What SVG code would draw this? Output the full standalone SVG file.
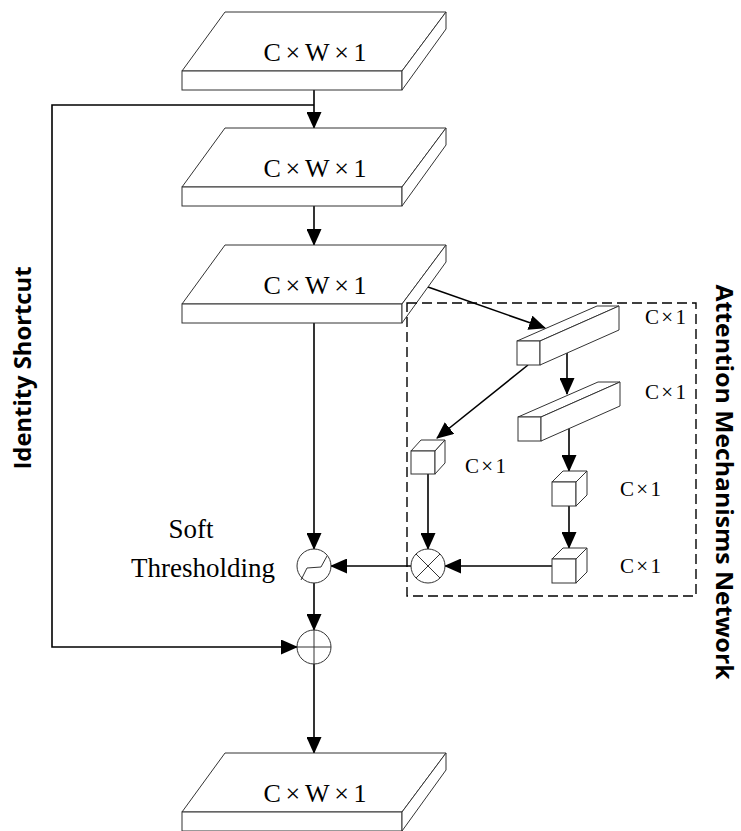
<svg xmlns="http://www.w3.org/2000/svg" width="741" height="831" viewBox="0 0 741 831">
<defs>
<style>
.box{fill:#fff;stroke:#333;stroke-width:1}
.ln{fill:none;stroke:#000;stroke-width:1.6}
.arr{fill:none;stroke:#000;stroke-width:1.6;marker-end:url(#ah)}
.cw{font-family:"Liberation Serif","Times New Roman",serif;font-size:26px;text-anchor:middle;fill:#000}
.c1{font-family:"Liberation Serif","Times New Roman",serif;font-size:21px;fill:#000}
.lbl{font-family:"Liberation Serif","Times New Roman",serif;font-size:27px;text-anchor:middle;fill:#000}
.side{font-family:"Open Sans","Noto Sans",sans-serif;font-weight:bold;fill:#000;text-anchor:middle}
.circ{fill:#fff;stroke:#333;stroke-width:1}
.thin{fill:none;stroke:#333;stroke-width:1}
</style>
<marker id="ah" markerUnits="userSpaceOnUse" markerWidth="17" markerHeight="15" refX="16" refY="7.5" orient="auto">
<path d="M0,0 L17,7.5 L0,15 Z" fill="#000"/>
</marker>
<g id="slab">
<polygon class="box" points="182,59 225,0 446,0 402,59"/>
<rect class="box" x="182" y="59" width="220" height="19"/>
<polygon class="box" points="402,59 446,0 446,17 402,78"/>
</g>
</defs>

<g id="connectors">
<line class="arr" x1="314" y1="90" x2="314" y2="128"/>
<line class="arr" x1="314" y1="206" x2="314" y2="245"/>
<line class="arr" x1="314" y1="323" x2="314" y2="549"/>
<line class="arr" x1="314" y1="583" x2="314" y2="630"/>
<line class="arr" x1="314" y1="664" x2="314" y2="753"/>
<polyline class="arr" points="314,105 52,105 52,647 297,647"/>
<line class="arr" x1="428" y1="287" x2="545" y2="328"/>
<line class="arr" x1="567" y1="353" x2="567" y2="394"/>
<line class="arr" x1="528" y1="365" x2="437" y2="438"/>
<line class="arr" x1="428" y1="474" x2="428" y2="549"/>
<line class="arr" x1="569" y1="428" x2="569" y2="471"/>
<line class="arr" x1="569" y1="506" x2="569" y2="548"/>
<line class="arr" x1="552" y1="566" x2="445" y2="566"/>
<line class="arr" x1="411" y1="566" x2="331" y2="566"/>
</g>

<g id="slab1">
<use href="#slab" transform="translate(0,12)"/>
<text class="cw" x="315" y="61" textLength="103">C×W×1</text>
</g>
<g id="slab2">
<use href="#slab" transform="translate(0,128)"/>
<text class="cw" x="315" y="177" textLength="103">C×W×1</text>
</g>
<g id="slab3">
<use href="#slab" transform="translate(0,245)"/>
<text class="cw" x="315" y="294" textLength="103">C×W×1</text>
</g>
<g id="slab4">
<use href="#slab" transform="translate(0,753)"/>
<text class="cw" x="315" y="802" textLength="103">C×W×1</text>
</g>

<g id="attention-box">
<rect x="407" y="303" width="289" height="293" fill="none" stroke="#000" stroke-width="1.4" stroke-dasharray="10,5"/>
</g>

<g id="bar1">
<polygon class="box" points="517,341 597,306 619,306 540,341"/>
<rect class="box" x="517" y="341" width="23" height="24"/>
<polygon class="box" points="540,341 619,306 619,330 540,365"/>
<text class="c1" x="645" y="324" textLength="41">C×1</text>
</g>
<g id="bar2">
<polygon class="box" points="518,417 598,382 620,382 541,417"/>
<rect class="box" x="518" y="417" width="23" height="24"/>
<polygon class="box" points="541,417 620,382 620,406 541,441"/>
<text class="c1" x="645" y="399" textLength="41">C×1</text>
</g>
<g id="cube1">
<polygon class="box" points="411,451 421,440 445,440 435,451"/>
<rect class="box" x="411" y="451" width="24" height="23"/>
<polygon class="box" points="435,451 445,440 445,463 435,474"/>
<text class="c1" x="465" y="473" textLength="41">C×1</text>
</g>
<g id="cube2">
<polygon class="box" points="552,482 563,471 587,471 576,482"/>
<rect class="box" x="552" y="482" width="24" height="24"/>
<polygon class="box" points="576,482 587,471 587,495 576,506"/>
<text class="c1" x="620" y="496" textLength="41">C×1</text>
</g>
<g id="cube3">
<polygon class="box" points="552,559 563,548 587,548 576,559"/>
<rect class="box" x="552" y="559" width="24" height="24"/>
<polygon class="box" points="576,559 587,548 587,572 576,583"/>
<text class="c1" x="620" y="573" textLength="41">C×1</text>
</g>

<g id="multiply">
<circle class="circ" cx="428" cy="566" r="17"/>
<line class="thin" x1="416" y1="554" x2="440" y2="578"/>
<line class="thin" x1="440" y1="554" x2="416" y2="578"/>
</g>
<g id="soft-threshold">
<circle class="circ" cx="314" cy="566" r="17"/>
<polyline class="thin" points="301,580 307,568 321,567 327,556"/>
<text class="lbl" x="191" y="538">Soft</text>
<text class="lbl" x="203" y="577">Thresholding</text>
</g>
<g id="add">
<circle class="circ" cx="314" cy="647" r="17"/>
<line class="thin" x1="297" y1="647" x2="331" y2="647"/>
<line class="thin" x1="314" y1="630" x2="314" y2="664"/>
</g>

<g id="labels">
<text class="side" font-size="23" transform="translate(31,368) rotate(-90)" textLength="203" lengthAdjust="spacingAndGlyphs">Identity  Shortcut</text>
<text class="side" font-size="24" transform="translate(716,482) rotate(90)" textLength="395" lengthAdjust="spacingAndGlyphs">Attention Mechanisms Network</text>
</g>
</svg>
